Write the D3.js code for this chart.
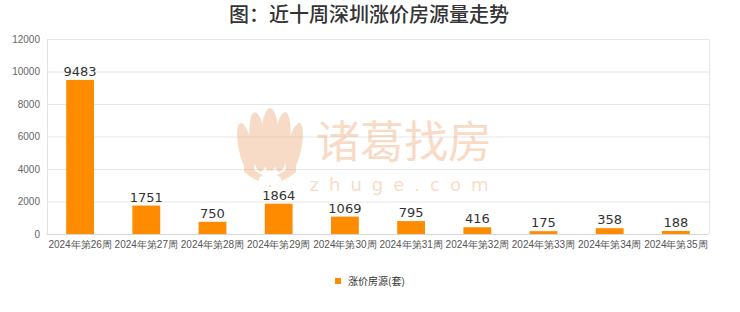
<!DOCTYPE html>
<html><head><meta charset="utf-8">
<script src="https://cdn.jsdelivr.net/npm/d3@7"></script>
<style>body{margin:0;background:#fff;font-family:"Noto Sans CJK SC","DejaVu Sans",sans-serif;}</style>
</head><body>
<svg id="c" width="740" height="312"></svg>
<script>
const titleText = "图：近十周深圳涨价房源量走势";
const categories = ["2024年第26周","2024年第27周","2024年第28周","2024年第29周","2024年第30周","2024年第31周","2024年第32周","2024年第33周","2024年第34周","2024年第35周"];
const values = [9483,1751,750,1864,1069,795,416,175,358,188];
const yTicks = [0,2000,4000,6000,8000,10000,12000];
const seriesName = "涨价房源(套)";

const svg = d3.select("#c");
const m = {l:47, r:709, t:39, b:234};
const x = d3.scaleBand().domain(categories).range([m.l, m.r]).padding(0);
const y = d3.scaleLinear().domain([0,12000]).range([m.b, m.t]);
const barW = x.bandwidth()*0.42;

svg.append("rect").attr("width",740).attr("height",312).attr("fill","#fff");

// title
svg.append("text").attr("x",369).attr("y",22).attr("text-anchor","middle")
  .attr("font-size",20).attr("font-weight","500").attr("fill","#333").text(titleText);

// grid
svg.append("g").selectAll("line").data(yTicks).join("line")
  .attr("x1",m.l).attr("x2",m.r).attr("y1",d=>y(d)+0.5).attr("y2",d=>y(d)+0.5)
  .attr("stroke","#e6e6e6").attr("stroke-width",1);
svg.append("line").attr("x1",m.l+0.5).attr("x2",m.l+0.5).attr("y1",m.t).attr("y2",m.b).attr("stroke","#e0e0e0");
svg.append("line").attr("x1",m.r+0.5).attr("x2",m.r+0.5).attr("y1",m.t).attr("y2",m.b).attr("stroke","#e6e6e6");
svg.append("line").attr("x1",m.l).attr("x2",m.r).attr("y1",m.b+0.5).attr("y2",m.b+0.5).attr("stroke","#d6d6d6");

// y labels
const ya = d3.axisLeft(y).tickValues(yTicks).tickFormat(d3.format("d")).tickSize(0).tickPadding(7);
const gy = svg.append("g").attr("transform",`translate(${m.l},0)`).call(ya);
gy.select(".domain").remove();
gy.selectAll("text").attr("font-size",10).attr("fill","#666").attr("font-family","Liberation Sans, Arial, sans-serif");

// x labels
const xa = d3.axisBottom(x).tickSize(0).tickPadding(7);
const gx = svg.append("g").attr("transform",`translate(0,${m.b})`).call(xa);
gx.select(".domain").remove();
gx.selectAll("text").attr("font-size",10).attr("fill","#555");

// bars
svg.append("g").selectAll("rect").data(values).join("rect")
  .attr("x",(d,i)=>x(categories[i])+x.bandwidth()/2-barW/2)
  .attr("width",barW)
  .attr("y",d=>y(d)).attr("height",d=>m.b-y(d))
  .attr("fill","#ff8c00");

// value labels
svg.append("g").selectAll("text").data(values).join("text")
  .attr("x",(d,i)=>x(categories[i])+x.bandwidth()/2)
  .attr("y",d=>y(d)-4).attr("text-anchor","middle")
  .attr("font-size",13).attr("fill","#333").attr("font-family","DejaVu Sans, sans-serif").text(d=>d);

// watermark
const wm = svg.append("g").attr("opacity",0.4).attr("fill","#f0a872");
const lg = wm.append("g").attr("transform","translate(270,152)");
[[-20,-4,7,26,-12],[-10,-10,8,30,-6],[0,-12,9,32,0],[10,-10,8,30,6],[20,-4,7,26,12]].forEach(p=>{
  lg.append("ellipse").attr("cx",p[0]).attr("cy",p[1]).attr("rx",p[2]).attr("ry",p[3])
    .attr("transform",`rotate(${p[4]},${p[0]},${p[1]+20})`);
});
lg.append("path").attr("d","M-26,8 Q0,40 26,8 L26,20 Q0,42 -26,20Z");
lg.append("path").attr("d","M-11,26 L0,18 L11,26 L11,33 L-11,33Z").attr("fill","#fff");
lg.append("rect").attr("x",-1).attr("y",33).attr("width",2).attr("height",2);
wm.append("text").attr("x",404).attr("y",158).attr("text-anchor","middle")
  .attr("font-size",44).attr("font-family","Noto Sans CJK SC").text("诸葛找房");
wm.append("text").attr("x",404).attr("y",191).attr("text-anchor","middle")
  .attr("font-size",18).attr("letter-spacing",10).attr("font-family","DejaVu Sans").text("zhuge.com");

// legend
svg.append("rect").attr("x",335).attr("y",278).attr("width",6).attr("height",6).attr("fill","#ff8c00");
svg.append("text").attr("x",348).attr("y",284.5).attr("font-size",10).attr("fill","#333").text(seriesName);
</script>
</body></html>
